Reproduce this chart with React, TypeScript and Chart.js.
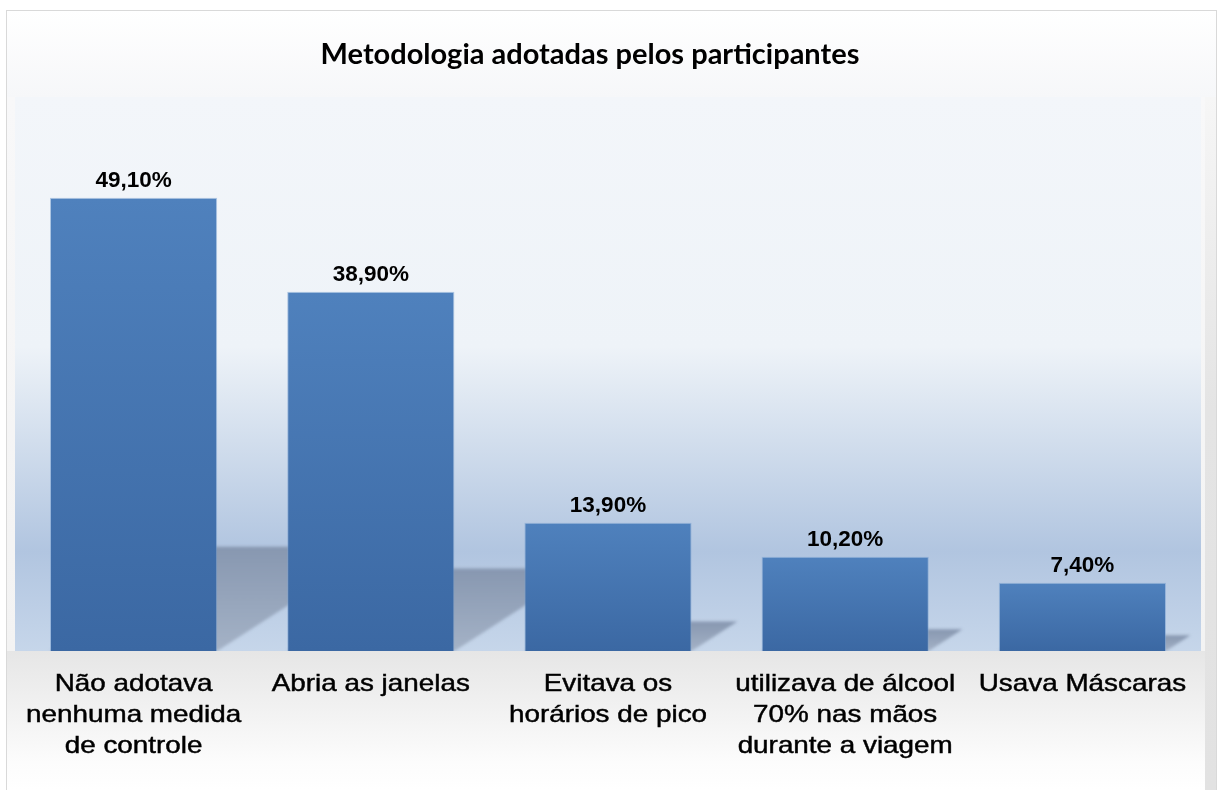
import React, { useEffect, useRef } from "react";
import { Chart, registerables } from "chart.js";

Chart.register(...registerables);

const title = "Metodologia adotadas pelos participantes";
const categories: string[][] = [
  ["Não adotava", "nenhuma medida", "de controle"],
  ["Abria as janelas"],
  ["Evitava os", "horários de pico"],
  ["utilizava de álcool", "70% nas mãos", "durante a viagem"],
  ["Usava Máscaras"],
];
const values = [49.1, 38.9, 13.9, 10.2, 7.4];
const valueLabels = ["49,10%", "38,90%", "13,90%", "10,20%", "7,40%"];
const yMax = 60;

const W = 1218;
const H = 790;

const backgroundPlugin = {
  id: "bgPlugin",
  beforeDraw(chart: any) {
    const ctx = chart.ctx as CanvasRenderingContext2D;
    const { left, top, right, bottom } = chart.chartArea;
    ctx.save();
    ctx.fillStyle = "#ffffff";
    ctx.fillRect(0, 0, W, H);

    let g = ctx.createLinearGradient(0, 10, 0, top);
    g.addColorStop(0, "#ffffff");
    g.addColorStop(1, "#f6f7f9");
    ctx.fillStyle = g;
    ctx.fillRect(7, 11, 1210, top - 11);

    g = ctx.createLinearGradient(0, top, 0, bottom);
    g.addColorStop(0, "#f8f8f9");
    g.addColorStop(1, "#f3f3f3");
    ctx.fillStyle = g;
    ctx.fillRect(7, top, left - 7, bottom - top);
    ctx.fillRect(right, top, 1217 - right, bottom - top);

    g = ctx.createLinearGradient(0, top, 0, H);
    g.addColorStop(0, "#f6f6f6");
    g.addColorStop(0.45, "#e4e4e4");
    g.addColorStop(1, "#e2e2e2");
    ctx.fillStyle = g;
    ctx.fillRect(1205, top, 12, H - top);

    g = ctx.createLinearGradient(0, bottom, 0, H);
    g.addColorStop(0, "#e6e6e6");
    g.addColorStop(0.8, "#fcfcfc");
    g.addColorStop(1, "#ffffff");
    ctx.fillStyle = g;
    ctx.fillRect(7, bottom, 1198, H - bottom);

    g = ctx.createLinearGradient(0, top, 0, bottom);
    g.addColorStop(0, "#f3f6fa");
    g.addColorStop(0.45, "#eef3f8");
    g.addColorStop(0.62, "#d2deed");
    g.addColorStop(0.82, "#b1c5e0");
    g.addColorStop(1, "#c6d6ea");
    ctx.fillStyle = g;
    ctx.fillRect(left, top, right - left, bottom - top);

    ctx.strokeStyle = "#d9d9d9";
    ctx.lineWidth = 1;
    ctx.strokeRect(6.5, 10.5, 1210, H);
    ctx.restore();
  },
};

const shadowPlugin = {
  id: "shadowPlugin",
  beforeDatasetsDraw(chart: any) {
    const ctx = chart.ctx as CanvasRenderingContext2D;
    const area = chart.chartArea;
    const meta = chart.getDatasetMeta(0);
    ctx.save();
    ctx.beginPath();
    ctx.rect(area.left, area.top, area.right - area.left, area.bottom - area.top);
    ctx.clip();
    ctx.filter = "blur(1.5px)";
    meta.data.forEach((bar: any) => {
      const w = bar.width;
      const l = bar.x - w / 2;
      const r = bar.x + w / 2;
      const base = bar.base;
      const h = base - bar.y;
      const sh = h * 0.23;
      const dx = sh * 1.55;
      const g = ctx.createLinearGradient(0, base - sh, 0, base);
      g.addColorStop(0, "#8797b0");
      g.addColorStop(1, "#a4b2c6");
      ctx.fillStyle = g;
      ctx.beginPath();
      ctx.moveTo(l, base);
      ctx.lineTo(r, base);
      ctx.lineTo(r + dx, base - sh);
      ctx.lineTo(l + dx, base - sh);
      ctx.closePath();
      ctx.fill();
    });
    ctx.restore();
  },
};

const labelPlugin = {
  id: "labelPlugin",
  afterDatasetsDraw(chart: any) {
    const ctx = chart.ctx as CanvasRenderingContext2D;
    const meta = chart.getDatasetMeta(0);
    ctx.save();
    ctx.font = "bold 22.5px 'Liberation Sans', Arial, sans-serif";
    ctx.fillStyle = "#000000";
    ctx.textAlign = "center";
    ctx.textBaseline = "alphabetic";
    meta.data.forEach((bar: any, i: number) => {
      ctx.fillText(valueLabels[i], bar.x, bar.y - 11);
    });
    ctx.restore();
  },
  afterDraw(chart: any) {
    const ctx = chart.ctx as CanvasRenderingContext2D;
    ctx.save();
    ctx.font = "bold 29px Lato, 'Open Sans', sans-serif";
    ctx.fillStyle = "#000000";
    ctx.textAlign = "center";
    ctx.textBaseline = "alphabetic";
    ctx.fillText(title, 590, 64);
    ctx.restore();

    // category labels (slightly wide, like the reference rendering)
    const xs = chart.scales.x;
    const base = chart.chartArea.bottom;
    const sx = 1.16;
    ctx.save();
    ctx.font = "24px 'Liberation Sans', Arial, sans-serif";
    ctx.fillStyle = "#000000";
    ctx.strokeStyle = "#000000";
    ctx.lineWidth = 0.45;
    ctx.textAlign = "center";
    ctx.textBaseline = "alphabetic";
    categories.forEach((lines, i) => {
      const x = xs.getPixelForValue(i);
      lines.forEach((line, j) => {
        ctx.save();
        ctx.translate(x, base + 40 + j * 31);
        ctx.scale(sx, 1);
        ctx.fillText(line, 0, 0);
        ctx.strokeText(line, 0, 0);
        ctx.restore();
      });
    });
    ctx.restore();
  },
};

export default function App() {
  const ref = useRef<HTMLCanvasElement | null>(null);
  useEffect(() => {
    if (!ref.current) return;
    const chart = new Chart(ref.current, {
      type: "bar",
      data: {
        labels: categories.map((c) => c.join(" ")),
        datasets: [
          {
            data: values,
            backgroundColor: (c: any) => {
              const ch = c.chart;
              const ys = ch.scales && ch.scales.y;
              if (!ys || c.raw === undefined) return "#4a7bb8";
              const yTop = ys.getPixelForValue(c.raw);
              const yBase = ys.getPixelForValue(0);
              if (!isFinite(yTop) || !isFinite(yBase) || yTop === yBase) return "#4a7bb8";
              const g = ch.ctx.createLinearGradient(0, yTop, 0, yBase);
              g.addColorStop(0, "#4f81bd");
              g.addColorStop(1, "#3b68a3");
              return g;
            },
            borderColor: "rgba(120,160,210,0.55)",
            borderWidth: 1,
            categoryPercentage: 1,
            barPercentage: 0.705,
          },
        ],
      },
      options: {
        animation: false,
        responsive: false,
        maintainAspectRatio: false,
        layout: { padding: { top: 97, left: 15, right: 17, bottom: 0 } },
        plugins: {
          legend: { display: false },
          title: { display: false },
          tooltip: { enabled: false },
        },
        scales: {
          x: {
            grid: { display: false, drawTicks: false },
            border: { display: false },
            ticks: { display: false },
            afterFit: (s: any) => {
              s.height = 139;
            },
          },
          y: {
            display: false,
            min: 0,
            max: yMax,
          },
        },
      },
      plugins: [backgroundPlugin, shadowPlugin, labelPlugin],
    });
    return () => chart.destroy();
  }, []);
  return (
    <div style={{ position: "absolute", left: 0, top: 0, width: W, height: H }}>
      <canvas ref={ref} width={W} height={H} style={{ width: W, height: H, display: "block" }} />
    </div>
  );
}
